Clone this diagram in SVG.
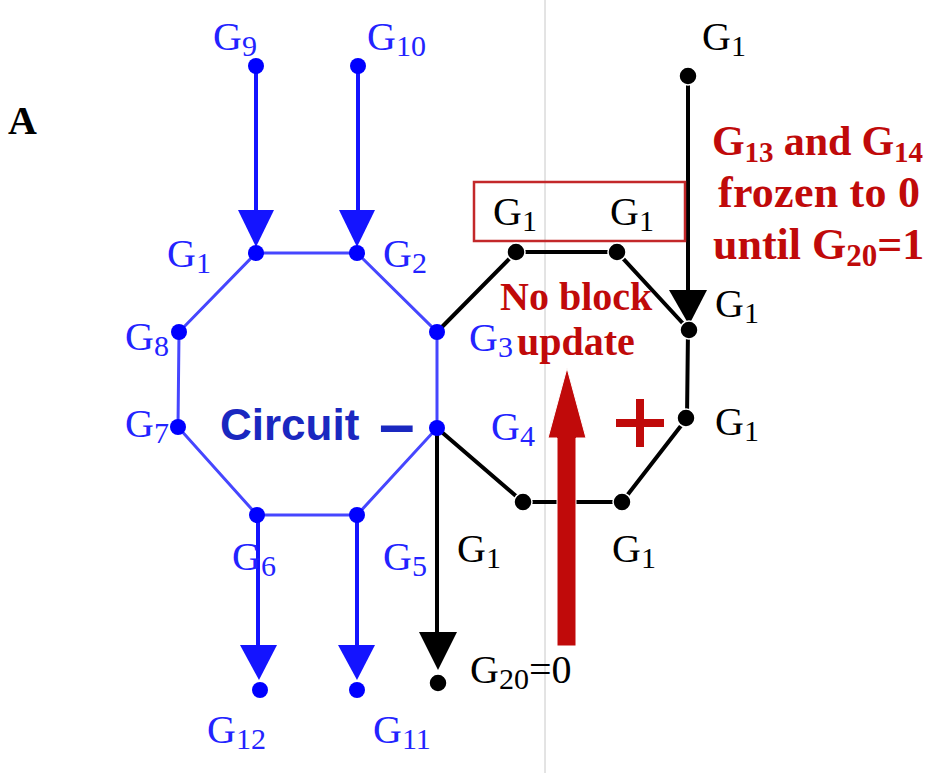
<svg xmlns="http://www.w3.org/2000/svg" width="932" height="773" viewBox="0 0 932 773">
<style>
  .lab { font-family: "Liberation Serif", "Times New Roman", serif; font-size: 40px; }
  .blab { fill: #2323ff; }
  .klab { fill: #000; }
  .sub { font-size: 30px; }
  .red { font-family: "Liberation Serif", "Times New Roman", serif; font-weight: bold; fill: #c00a0a; }
  .bn { fill: #0000ff; }
  .kn { fill: #000; stroke: #fff; stroke-width: 1.5; }
  .oct { stroke: #4646ff; stroke-width: 3; fill: none; }
  .barr { stroke: #1414ff; stroke-width: 4; fill: none; }
  .kl { stroke: #000; stroke-width: 4; fill: none; }
</style>
<rect width="932" height="773" fill="#fff"/>
<line x1="545" y1="0" x2="545" y2="773" stroke="#c8c8c8" stroke-width="1"/>

<text x="8" y="134" class="red" style="fill:#000" font-size="40">A</text>

<g id="connectors">
  <polygon class="oct" points="256,253 357,253 437,332 437,428 357,515 257,515 178,427 179,332"/>
  <line class="barr" x1="256" y1="66" x2="256" y2="215"/>
  <polygon fill="#1414ff" points="238,210 274,210 256,247"/>
  <line class="barr" x1="358" y1="66" x2="358" y2="215"/>
  <polygon fill="#1414ff" points="339,210 375,210 357,247"/>
  <line class="barr" x1="258" y1="515" x2="258" y2="650"/>
  <polygon fill="#1414ff" points="240,645 277,645 259,680"/>
  <line class="barr" x1="357" y1="515" x2="357" y2="650"/>
  <polygon fill="#1414ff" points="338,645 375,645 357,680"/>
  <polyline class="kl" points="437,332 516,252 617,252 689,330"/>
  <line class="kl" x1="688" y1="76" x2="688" y2="295"/>
  <polygon fill="#000" points="669,290 707,290 689,325"/>
  <polyline class="kl" points="688,330 687,418 622,502 523,502 437,428"/>
  <line class="kl" x1="437" y1="428" x2="437" y2="640"/>
  <polygon fill="#000" points="419,632 457,632 438,670"/>
  <rect x="474" y="182" width="211" height="59" fill="none" stroke="#c3282a" stroke-width="2.5"/>
  <polygon fill="#c00a0a" stroke="#fff" stroke-width="1" points="557,646 576,646 576,438 586,438 567,368 548,438 557,438"/>
</g>

<g id="n-G9"><circle class="bn" cx="256" cy="66" r="8"/><text class="lab blab" x="213" y="50">G<tspan class="sub" dy="6">9</tspan></text></g>
<g id="n-G10"><circle class="bn" cx="358" cy="66" r="8"/><text class="lab blab" x="367" y="50">G<tspan class="sub" dy="6">10</tspan></text></g>
<g id="n-G1"><circle class="bn" cx="256" cy="253" r="8"/><text class="lab blab" x="167" y="267">G<tspan class="sub" dy="6">1</tspan></text></g>
<g id="n-G2"><circle class="bn" cx="357" cy="253" r="8"/><text class="lab blab" x="383" y="267">G<tspan class="sub" dy="6">2</tspan></text></g>
<g id="n-G3"><circle class="bn" cx="437" cy="332" r="8"/><text class="lab blab" x="469" y="351">G<tspan class="sub" dy="6">3</tspan></text></g>
<g id="n-G4"><circle class="bn" cx="437" cy="428" r="8"/><text class="lab blab" x="491" y="440">G<tspan class="sub" dy="6">4</tspan></text></g>
<g id="n-G5"><circle class="bn" cx="357" cy="515" r="8"/><text class="lab blab" x="383" y="570">G<tspan class="sub" dy="6">5</tspan></text></g>
<g id="n-G6"><circle class="bn" cx="257" cy="515" r="8"/><text class="lab blab" x="232" y="570">G<tspan class="sub" dy="6">6</tspan></text></g>
<g id="n-G7"><circle class="bn" cx="178" cy="427" r="8"/><text class="lab blab" x="125" y="437">G<tspan class="sub" dy="6">7</tspan></text></g>
<g id="n-G8"><circle class="bn" cx="179" cy="332" r="8"/><text class="lab blab" x="125" y="350">G<tspan class="sub" dy="6">8</tspan></text></g>
<g id="n-G12"><circle class="bn" cx="260" cy="690" r="8"/><text class="lab blab" x="207" y="743">G<tspan class="sub" dy="6">12</tspan></text></g>
<g id="n-G11"><circle class="bn" cx="357" cy="690" r="8"/><text class="lab blab" x="373" y="743">G<tspan class="sub" dy="6">11</tspan></text></g>

<g id="circuit-label">
  <text x="220" y="440" font-family="'Liberation Sans', Arial, sans-serif" font-weight="bold" font-size="44" fill="#1a28c0">Circuit</text>
  <text x="379" y="446" font-family="'Liberation Sans', Arial, sans-serif" font-weight="bold" font-size="64" fill="#1a28c0">–</text>
</g>

<g id="k-top"><circle class="kn" cx="688" cy="76" r="9"/><text class="lab klab" x="702" y="50">G<tspan class="sub" dy="6">1</tspan></text></g>
<g id="k-box1"><circle class="kn" cx="516" cy="252" r="9"/><text class="lab klab" x="493" y="225">G<tspan class="sub" dy="6">1</tspan></text></g>
<g id="k-box2"><circle class="kn" cx="617" cy="252" r="9"/><text class="lab klab" x="610" y="225">G<tspan class="sub" dy="6">1</tspan></text></g>
<g id="k-r1"><circle class="kn" cx="689" cy="330" r="9"/><text class="lab klab" x="715" y="317">G<tspan class="sub" dy="6">1</tspan></text></g>
<g id="k-r2"><circle class="kn" cx="686" cy="418" r="9"/><text class="lab klab" x="715" y="435">G<tspan class="sub" dy="6">1</tspan></text></g>
<g id="k-b2"><circle class="kn" cx="622" cy="502" r="9"/><text class="lab klab" x="612" y="562">G<tspan class="sub" dy="6">1</tspan></text></g>
<g id="k-b1"><circle class="kn" cx="523" cy="502" r="9"/><text class="lab klab" x="457" y="562">G<tspan class="sub" dy="6">1</tspan></text></g>
<g id="k-G20"><circle class="kn" cx="438" cy="683" r="9"/><text class="lab klab" x="470" y="683">G<tspan class="sub" dy="6">20</tspan><tspan dy="-6">=0</tspan></text></g>

<g id="notes">
  <text class="red" font-size="40" x="500" y="310">No block</text>
  <text class="red" font-size="40" x="517" y="355">update</text>
  <text class="red" font-size="42" x="712" y="155" textLength="211" lengthAdjust="spacing">G<tspan font-size="29" dy="7">13</tspan><tspan dy="-7"> and G</tspan><tspan font-size="29" dy="7">14</tspan></text>
  <text class="red" font-size="44" x="718" y="207" textLength="202" lengthAdjust="spacing">frozen to 0</text>
  <text class="red" font-size="44" x="713" y="259">until G<tspan font-size="31" dy="7">20</tspan><tspan dy="-7">=1</tspan></text>
  <rect x="616" y="419" width="48" height="8" fill="#c00a0a"/>
  <rect x="636" y="399" width="8" height="48" fill="#c00a0a"/>
</g>
</svg>
